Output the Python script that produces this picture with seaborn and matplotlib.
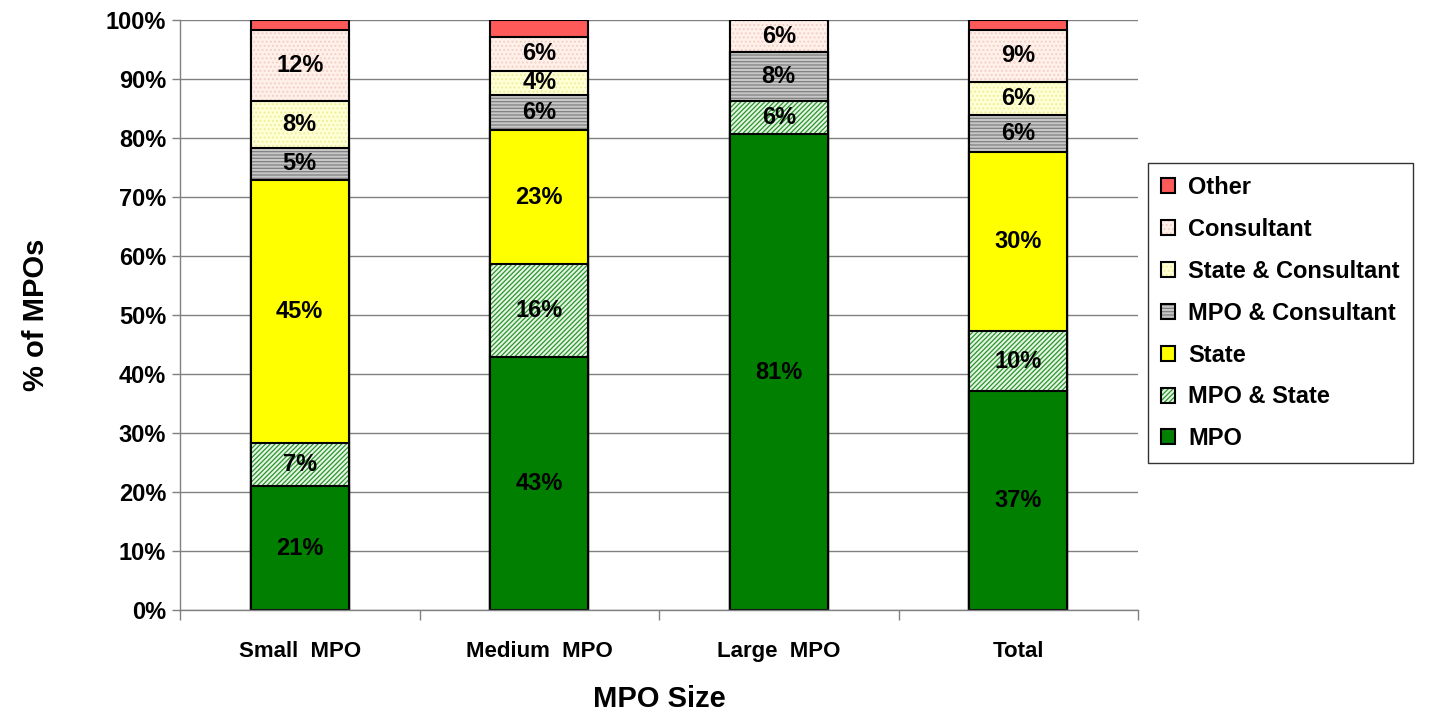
import numpy as np
import pandas as pd
import matplotlib
matplotlib.use("Agg")
import matplotlib.pyplot as plt
from matplotlib.patches import Patch
import seaborn as sns

# data (percent of MPOs)
sizes = ["Small  MPO", "Medium  MPO", "Large  MPO", "Total"]
mpo = [21.0, 42.9, 80.6, 37.1]
mpo_state = [7.3, 15.8, 5.6, 10.2]
state = [44.6, 22.6, 0.0, 30.3]
mpo_consultant = [5.4, 6.0, 8.3, 6.3]
state_consultant = [7.9, 4.1, 0.0, 5.6]
consultant = [12.1, 5.8, 5.5, 8.8]
other = [1.7, 2.8, 0.0, 1.7]

layers = ["MPO", "MPO & State", "State", "MPO & Consultant",
          "State & Consultant", "Consultant", "Other"]
values = [mpo, mpo_state, state, mpo_consultant, state_consultant, consultant, other]
faces = ["#007F00", "#E6F4E6", "#FFFF00", "#C8C8C8", "#FFFFD6", "#FFF0EA", "#FF5A5A"]
hatches = [None, "///////", None, "-----", "....", "....", None]
hatch_cols = [None, "#2A962A", None, "#808080", "#EEEE99", "#F2CFC4", None]


def set_hatch_color(p, col):
    if hasattr(p, "set_hatchcolor"):
        p.set_hatchcolor(col)
    else:
        p._hatch_color = matplotlib.colors.to_rgba(col)


sns.set_style("white")
plt.rcParams["font.family"] = ["Liberation Sans", "DejaVu Sans"]
plt.rcParams["font.weight"] = "bold"
plt.rcParams["hatch.linewidth"] = 0.9
plt.rcParams["text.color"] = "black"
plt.rcParams["axes.labelcolor"] = "black"
plt.rcParams["xtick.color"] = "black"
plt.rcParams["ytick.color"] = "black"

fig = plt.figure(figsize=(14.33, 7.17), dpi=100)
ax = fig.add_axes([180 / 1433, 1 - 610 / 717, 958 / 1433, 590 / 717])

df = pd.DataFrame({"size": sizes})
cum = np.cumsum(np.array(values), axis=0)
bottoms = np.vstack([np.zeros(len(sizes)), cum[:-1]])

# draw cumulative bars from the top layer down so each covers the one above
for i in range(len(layers) - 1, -1, -1):
    df["v"] = cum[i]
    n_before = len(ax.patches)
    sns.barplot(data=df, x="size", y="v", color=faces[i], width=0.41,
                edgecolor="black", linewidth=1.5, saturation=1, ax=ax)
    for p in ax.patches[n_before:]:
        p.set_facecolor(faces[i])
        p.set_edgecolor("black")
        if hatches[i]:
            p.set_hatch(hatches[i])
            set_hatch_color(p, hatch_cols[i])

# percentage labels
for i in range(len(layers) - 1):
    for j in range(len(sizes)):
        v = values[i][j]
        if v <= 0:
            continue
        ax.text(j, bottoms[i][j] + v / 2, f"{round(v):.0f}%", ha="center", va="center",
                fontsize=17, fontweight="bold", color="black")

ax.set_ylim(0, 100)
ax.set_xlim(-0.5, 3.5)
ax.set_yticks(np.arange(0, 101, 10))
ax.set_yticklabels([f"{t}%" for t in range(0, 101, 10)], fontsize=17, fontweight="bold")
ax.yaxis.grid(True, color="#808080", linewidth=1)
ax.set_axisbelow(True)
ax.tick_params(axis="y", length=6, width=1, color="#808080", direction="out", pad=4, left=True)
ax.set_xticks(range(len(sizes)))
ax.set_xticklabels(sizes, fontsize=16, fontweight="bold")
ax.set_xticks(np.arange(-0.5, 4, 1), minor=True)
ax.tick_params(axis="x", which="major", length=0, pad=22)
ax.tick_params(axis="x", which="minor", length=7, width=1, color="#808080", direction="out", bottom=True)
for s in ["top", "right"]:
    ax.spines[s].set_visible(False)
for s in ["left", "bottom"]:
    ax.spines[s].set_color("#808080")
    ax.spines[s].set_linewidth(1)

ax.set_ylabel("% of MPOs", fontsize=21, fontweight="bold", labelpad=40)
ax.set_xlabel("MPO Size", fontsize=21, fontweight="bold", labelpad=17)

handles = []
for i in range(len(layers) - 1, -1, -1):
    h = Patch(facecolor=faces[i], edgecolor="black", linewidth=1.5,
              hatch=hatches[i] if hatches[i] else None, label=layers[i])
    if hatches[i]:
        set_hatch_color(h, hatch_cols[i])
    handles.append(h)
leg = fig.legend(handles=handles, loc="upper left",
                 bbox_to_anchor=(1148 / 1433, 1 - 163 / 717),
                 prop={"size": 17, "weight": "bold"}, frameon=True, fancybox=False,
                 edgecolor="black", handlelength=0.6, handleheight=0.6,
                 handletextpad=0.55, labelspacing=0.8, borderpad=0.55,
                 borderaxespad=0)
leg.get_frame().set_linewidth(1)

fig.savefig("out.png", dpi=100)
